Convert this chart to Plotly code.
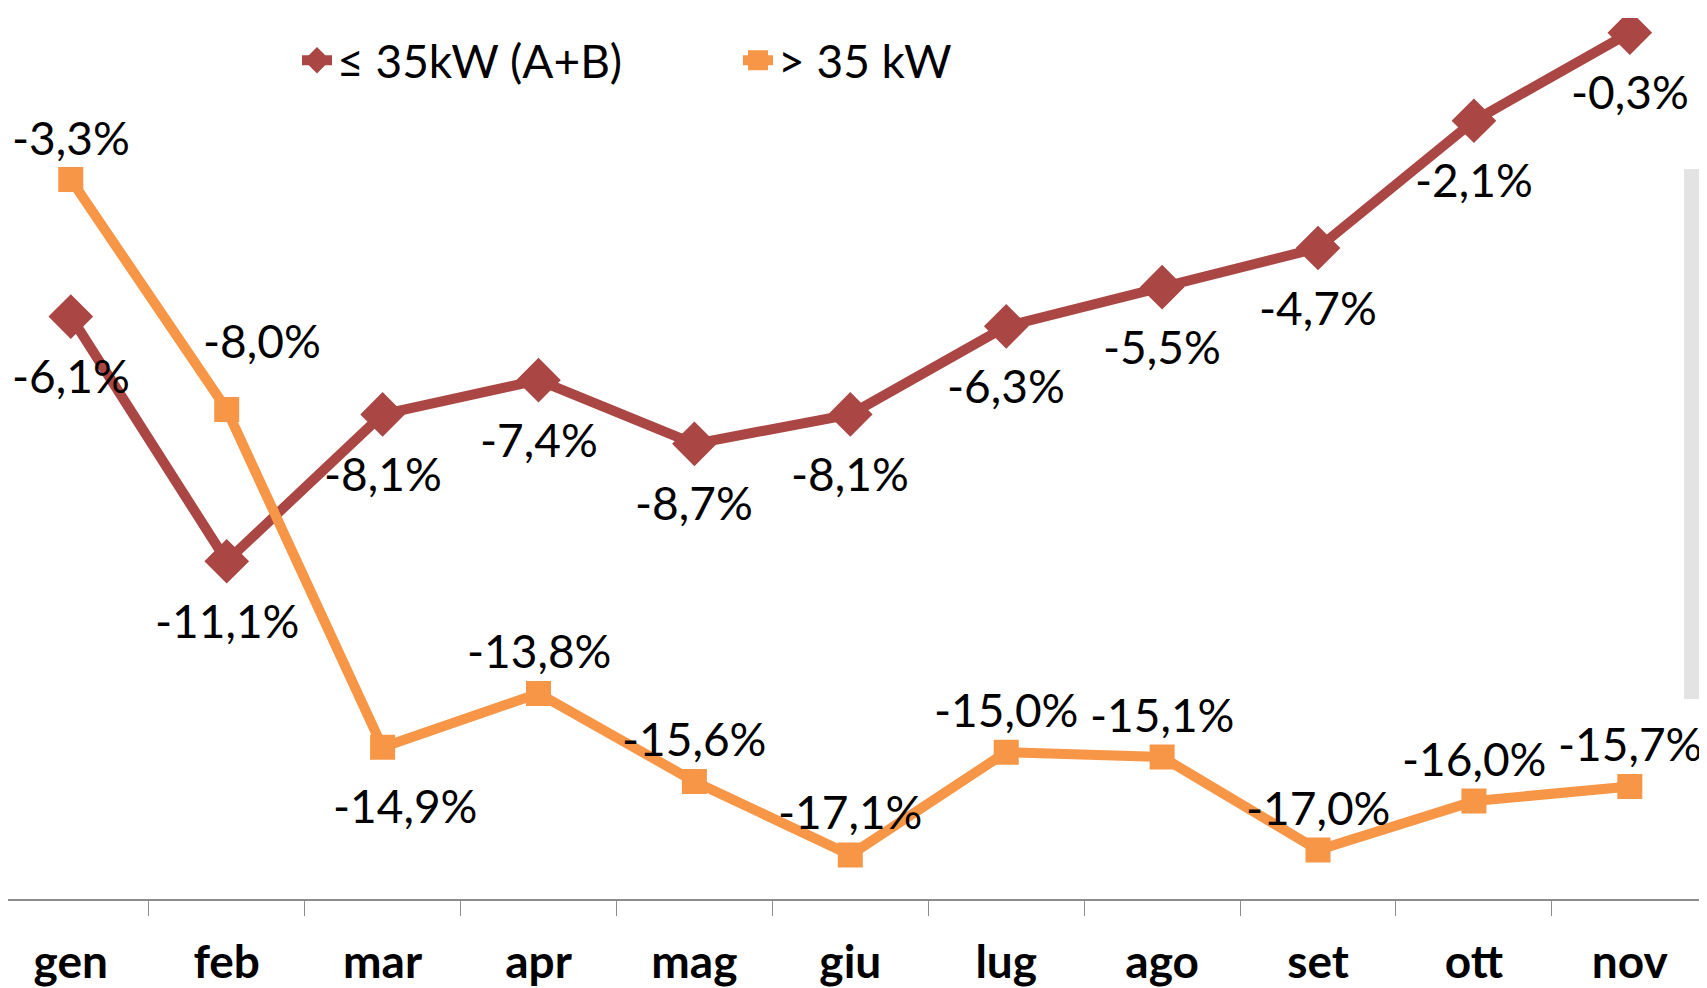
import plotly.graph_objects as go

months = ['gen', 'feb', 'mar', 'apr', 'mag', 'giu', 'lug', 'ago', 'set', 'ott', 'nov']
small = [-6.1, -11.1, -8.1, -7.4, -8.7, -8.1, -6.3, -5.5, -4.7, -2.1, -0.3]
large = [-3.3, -8.0, -14.9, -13.8, -15.6, -17.1, -15.0, -15.1, -17.0, -16.0, -15.7]
series_names = ['≤ 35kW (A+B)', '> 35 kW']

# label offsets (pixels)
small_dx = [0] * 11
small_dy = [-59] * 11
large_dx = [0, 35, 22, 0, 0, 0, 0, 0, 0, 0, 0]
large_dy = [42, 69, -58, 43, 43, 43, 43, 43, 43, 43, 43]

RED = '#AA4643'
ORANGE = '#F79646'
FONT = 'Lato'
FS = 46
W, H = 1699, 980

def fmt(v):
    return f"{v:.1f}%".replace('.', ',')

fig = go.Figure()
fig.add_trace(go.Scatter(
    x=months, y=small, name=series_names[0], mode='lines+markers',
    line=dict(color=RED, width=10),
    marker=dict(symbol='diamond', size=30, color=RED, line=dict(color=RED, width=4)),
))
fig.add_trace(go.Scatter(
    x=months, y=large, name=series_names[1], mode='lines+markers',
    line=dict(color=ORANGE, width=10),
    marker=dict(symbol='square', size=21, color=ORANGE, line=dict(color=ORANGE, width=4)),
))

anns = []
for i, m in enumerate(months):
    anns.append(dict(x=m, y=small[i], text=fmt(small[i]), showarrow=False,
                     xshift=small_dx[i], yshift=small_dy[i],
                     font=dict(family=FONT, size=FS, color='black')))
    anns.append(dict(x=m, y=large[i], text=fmt(large[i]), showarrow=False,
                     xshift=large_dx[i], yshift=large_dy[i],
                     font=dict(family=FONT, size=FS, color='black')))

shapes = [
    dict(type='rect', xref='paper', yref='paper', x0=1676 / W, x1=1.0,
         y0=0.227, y1=0.8286, fillcolor='#E3E3E3', line=dict(width=0), layer='below'),
]
for yy in [0.7855, 0.4154]:
    shapes.append(dict(type='circle', xref='paper', yref='paper',
                       xsizemode='pixel', ysizemode='pixel',
                       xanchor=1696 / W, yanchor=yy,
                       x0=-4, x1=4, y0=-4, y1=4,
                       fillcolor='black', line=dict(width=0)))

fig.update_layout(
    width=W, height=H,
    margin=dict(l=0, r=0, t=10, b=89, autoexpand=False),
    paper_bgcolor='white', plot_bgcolor='rgba(0,0,0,0)',
    font=dict(family=FONT, color='black'),
    showlegend=True,
    legend=dict(orientation='h', x=289 / W, y=0.952, xanchor='left', yanchor='middle',
                font=dict(family=FONT, size=FS, color='black'),
                entrywidth=396, entrywidthmode='pixels',
                bgcolor='rgba(0,0,0,0)'),
    annotations=anns,
    shapes=shapes,
    xaxis=dict(type='category', range=[-0.4028, 10.495], showgrid=False,
               showline=True, linecolor='#8C8C8C', linewidth=2,
               ticks='outside', ticklen=15, tickcolor='#8C8C8C', tickwidth=1,
               tickson='boundaries', ticklabelstandoff=22, automargin=False,
               tickfont=dict(family=FONT, size=FS, color='black', weight='bold'),
               zeroline=False),
    yaxis=dict(range=[-18, 0], visible=False, showgrid=False, zeroline=False),
)

fig.write_html("out.html")
